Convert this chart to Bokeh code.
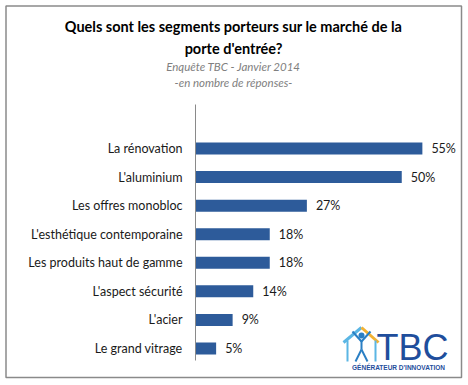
from bokeh.plotting import figure
from bokeh.models import ColumnDataSource, Range1d
from bokeh.core.properties import value
from bokeh.embed import file_html
from bokeh.resources import INLINE

# ---- data ----
categories = ["La rénovation", "L'aluminium", "Les offres monobloc",
              "L'esthétique contemporaine", "Les produits haut de gamme",
              "L'aspect sécurité", "L'acier", "Le grand vitrage"]
values = [55, 50, 27, 18, 18, 14, 9, 5]
value_labels = ["55%", "50%", "27%", "18%", "18%", "14%", "9%", "5%"]

title_lines = ["Quels sont les segments porteurs sur le marché de la", "porte d'entrée?"]
subtitle_lines = ["Enquête TBC - Janvier 2014", "-en nombre de réponses-"]

# ---- geometry (reference pixels -> data) ----
W, H = 464, 380
AX_PX = 195.0      # x of value 0
PX_PER_X = 4.125   # px per percent
BOT_PY = 348.0     # y of last category
PX_PER_Y = 28.57   # px per category step

def dx(px):
    return (px - AX_PX) / PX_PER_X

def dy(py):
    return (BOT_PY - py) / PX_PER_Y

n = len(categories)
ypos = [n - 1 - i for i in range(n)]

p = figure(width=W, height=H, output_backend="svg", toolbar_location=None,
           x_range=Range1d(dx(0), dx(W)),
           y_range=Range1d(dy(H), dy(0)),
           min_border=0, min_border_left=0, min_border_right=0,
           min_border_top=0, min_border_bottom=0)
p.xaxis.visible = False
p.yaxis.visible = False
p.grid.visible = False
p.outline_line_color = None
p.background_fill_color = "white"
p.border_fill_color = "white"

# frame border of the chart
p.quad(left=[dx(5.5)], right=[dx(461)], top=[dy(5.5)], bottom=[dy(377)],
       fill_color=None, line_color="#8a8a8a", line_width=1.5)

src = ColumnDataSource(dict(cat=categories, val=values, lab=value_labels, y=ypos,
                            zero=[0] * n))

FONT = "Lato"
p.hbar(y="y", left=0, right="val", height=0.42, source=src,
       fill_color="#2D5B9A", line_color=None)

# axis line
p.segment(x0=[0], x1=[0], y0=[dy(360)], y1=[dy(104)], line_color="#8a8a8a", line_width=1)

# category labels
p.text(x="zero", y="y", text="cat", source=src, x_offset=-13,
       text_align="right", text_baseline="middle", text_font=value(FONT),
       text_font_size="12.5px", text_color="#1a1a1a")
# value labels
p.text(x="val", y="y", text="lab", source=src, x_offset=9,
       text_align="left", text_baseline="middle", text_font=value(FONT),
       text_font_size="12.5px", text_color="#1a1a1a")

# titles
cx = dx(233)
p.text(x=[cx, cx], y=[dy(26), dy(48)], text=title_lines, text_align="center",
       text_baseline="middle", text_font=value(FONT), text_font_style="bold",
       text_font_size="14.5px", text_color="#000000")
p.text(x=[cx, cx], y=[dy(66), dy(82)], text=subtitle_lines, text_align="center",
       text_baseline="middle", text_font=value(FONT), text_font_style="italic",
       text_font_size="11.5px", text_color="#808080")

# ---- TBC logo (decoration) ----
p.text(x=[dx(412)], y=[dy(347)], text=["TBC"], text_align="center",
       text_baseline="middle", text_font=value("Liberation Sans"),
       text_font_size="36px", text_color="#1f4e9c")
p.text(x=[dx(398)], y=[dy(367)], text=["GÉNÉRATEUR D'INNOVATION"], text_align="center",
       text_baseline="middle", text_font=value("Liberation Sans"),
       text_font_style="bold", text_font_size="6.5px", text_color="#1f4e9c")
# roof
p.segment(x0=[dx(343)], y0=[dy(342)], x1=[dx(361)], y1=[dy(327)],
          line_color="#5bb6e4", line_width=3)
p.segment(x0=[dx(361)], y0=[dy(327)], x1=[dx(378)], y1=[dy(342)],
          line_color="#f2b233", line_width=3)
# walls
p.segment(x0=[dx(347), dx(375)], y0=[dy(340), dy(340)], x1=[dx(347), dx(375)],
          y1=[dy(361), dy(361)], line_color="#5bb6e4", line_width=2)
# person
p.scatter(x=[dx(361)], y=[dy(335)], size=6, fill_color="#2a7fc4", line_color=None)
p.segment(x0=[dx(352), dx(370), dx(361), dx(361), dx(361)],
          y0=[dy(331), dy(331), dy(340), dy(349), dy(349)],
          x1=[dx(361), dx(361), dx(361), dx(355), dx(367)],
          y1=[dy(341), dy(341), dy(349), dy(361), dy(361)],
          line_color="#2a7fc4", line_width=2)

open("out.html", "w").write(file_html(p, INLINE))
